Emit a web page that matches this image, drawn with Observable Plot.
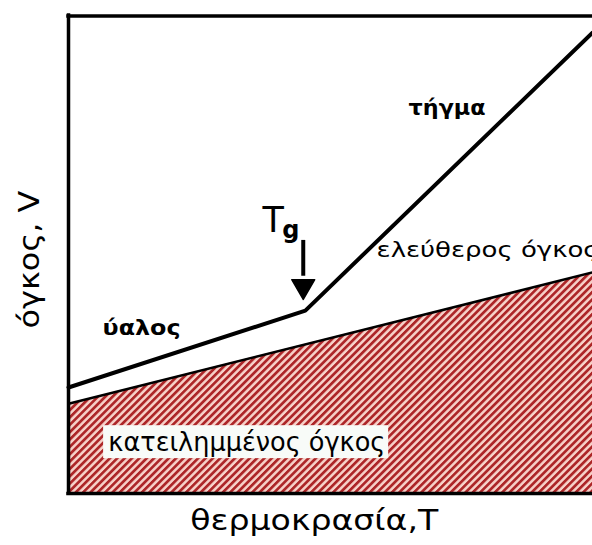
<!DOCTYPE html>
<html>
<head>
<meta charset="utf-8">
<script src="https://cdn.jsdelivr.net/npm/d3@7"></script>
<script src="https://cdn.jsdelivr.net/npm/@observablehq/plot@0.6"></script>
<style>
  html, body { margin: 0; padding: 0; background: #ffffff; overflow: hidden; }
</style>
</head>
<body>
<div id="chart"></div>
<script>
// Specific volume curve (glass -> kink at Tg -> melt)
const curveT = [0, 45.2, 100];
const curveV = [22.2, 38.3, 96.5];
// Occupied volume boundary
const occT = [0, 100];
const occV = [18.8, 46.3];
// Tg arrow
const tgT = [44.8];
const tgTop = [53.0];
const tgHead = [43.4];
// Labels
const labels = ["τήγμα", "ύαλος", "ελεύθερος όγκος", "κατειλημμένος όγκος"];
const labelT = [64.9, 6.5, 58.8, 7.6];
const labelV = [79.2, 33.1, 49.6, 9.0];
const xLabel = "θερμοκρασία,T";
const yLabel = "όγκος, V";
const tgMain = "T";
const tgSub = "g";

const curve = curveT.map((t, i) => ({t, v: curveV[i]}));
const occ = occT.map((t, i) => ({t, v: occV[i]}));
const lab = labels.map((s, i) => ({s, t: labelT[i], v: labelV[i]}));

const boxFont = "DejaVu Sans";

const plot = Plot.plot({
  width: 592,
  height: 545,
  marginLeft: 68, marginRight: 0, marginTop: 15, marginBottom: 52,
  x: {domain: [0, 100], range: [68, 592], axis: null},
  y: {domain: [0, 100], range: [493, 15.5], axis: null},
  style: {fontFamily: boxFont, background: "#ffffff", color: "#000"},
  marks: [
    Plot.areaY(occ, {x: "t", y: "v", fill: "url(#hatch)"}),
    Plot.line(occ, {x: "t", y: "v", stroke: "#000", strokeWidth: 2.5}),
    Plot.rect([lab[3]], {x1: 6.7, x2: 61.1, y1: 7.3, y2: 14.2, fill: "#f8fbf8"}),
    Plot.line(curve, {x: "t", y: "v", stroke: "#000", strokeWidth: 4, strokeLinejoin: "round"}),
    Plot.ruleX(tgT, {x: d => d, y1: tgTop, y2: [45.5], stroke: "#000", strokeWidth: 4}),
    Plot.dot(tgT, {x: d => d, y: tgHead, symbol: "triangle", rotate: 180, r: 8.5, fill: "#000", stroke: "#000", strokeWidth: 1.5, strokeLinejoin: "round"}),
    Plot.text([lab[0], lab[1]], {x: "t", y: "v", text: "s", textAnchor: "start", lineAnchor: "bottom", fontSize: 22, fontWeight: "bold"}),
    Plot.text([lab[2]], {x: "t", y: "v", text: "s", textAnchor: "start", lineAnchor: "bottom", fontSize: 21}),
    Plot.text([lab[3]], {x: "t", y: "v", text: "s", textAnchor: "start", lineAnchor: "bottom", fontSize: 26}),
    Plot.text([tgMain], {x: [37.0], y: [54.7], text: d => d, textAnchor: "start", lineAnchor: "bottom", fontSize: 35}),
    Plot.text([tgSub], {x: [40.8], y: [53.6], text: d => d, textAnchor: "start", lineAnchor: "bottom", fontSize: 24, fontWeight: "bold"}),
    Plot.text([xLabel], {x: [46.9], y: [-7.7], text: d => d, textAnchor: "middle", lineAnchor: "bottom", fontSize: 29}),
    Plot.text([yLabel], {x: [-5.7], y: [49.0], text: d => d, textAnchor: "middle", lineAnchor: "bottom", fontSize: 29, rotate: -90}),
    Plot.ruleX([0], {stroke: "#000", strokeWidth: 3.5, strokeLinecap: "square"}),
    Plot.ruleY([0, 100], {stroke: "#000", strokeWidth: 3.5, strokeLinecap: "square"})
  ]
});

const svg = d3.select(plot);
svg.insert("defs", ":first-child").html(
  '<pattern id="hatch" patternUnits="userSpaceOnUse" width="5.2" height="5.2" patternTransform="rotate(45)">' +
  '<rect width="5.2" height="5.2" fill="#f7d2ca"></rect>' +
  '<rect width="2.7" height="5.2" fill="#ad2628"></rect>' +
  '</pattern>'
);

// stretch texts to their measured widths
const widths = new Map([
  ["τήγμα", 77], ["ύαλος", 78], ["ελεύθερος όγκος", 222],
  ["κατειλημμένος όγκος", 277], [xLabel, 248], [yLabel, 138]
]);
svg.selectAll("text").each(function() {
  const s = this.textContent;
  if (widths.has(s)) {
    d3.select(this).attr("textLength", widths.get(s)).attr("lengthAdjust", "spacingAndGlyphs");
  }
});

document.getElementById("chart").appendChild(plot);
</script>
</body>
</html>
